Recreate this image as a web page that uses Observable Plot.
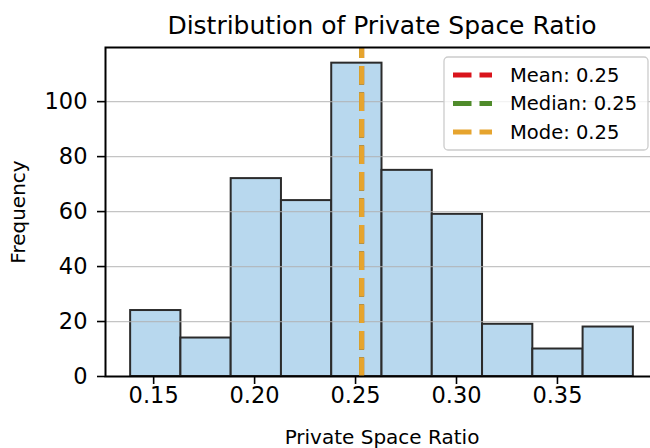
<!DOCTYPE html>
<html><head><meta charset="utf-8">
<script src="https://cdn.jsdelivr.net/npm/d3@7"></script>
<script src="https://cdn.jsdelivr.net/npm/@observablehq/plot@0.6"></script>
<style>html,body{margin:0;padding:0;background:#fff;overflow:hidden;width:650px;height:448px}</style>
</head><body><div id="chart"></div>
<script>
// ---- data ----
const binStart = [0.1386, 0.1635, 0.1884, 0.2133, 0.2382, 0.2631, 0.2880, 0.3129, 0.3378, 0.3627];
const binEnd   = [0.1635, 0.1884, 0.2133, 0.2382, 0.2631, 0.2880, 0.3129, 0.3378, 0.3627, 0.3876];
const counts   = [24, 14, 72, 64, 114, 75, 59, 19, 10, 18];
const statNames  = ["Mean", "Median", "Mode"];
const statValues = [0.253, 0.253, 0.253];
const statLabels = ["0.25", "0.25", "0.25"];
const statColors = ["#d9141c", "#4f8b2b", "#e6a42e"];
const xTicks = [0.15, 0.20, 0.25, 0.30, 0.35];
const yTicks = [0, 20, 40, 60, 80, 100];
const title  = "Distribution of Private Space Ratio";
const xLabel = "Private Space Ratio";
const yLabel = "Frequency";

// ---- derived tables ----
const bins = counts.map((c, i) => ({x0: binStart[i], x1: binEnd[i], count: c}));
const stats = statNames.map((n, i) => ({name: n, value: statValues[i], label: statLabels[i], color: statColors[i]}));
const span = binEnd[binEnd.length - 1] - binStart[0];
const xMin = binStart[0] - 0.05 * span;
const xMax = binEnd[binEnd.length - 1] + 0.05 * span;
const yMax = d3.max(counts) * 1.05;

const W = 650, H = 448;
const marks = [
  Plot.rectY(bins, {x1: "x0", x2: "x1", y: "count", fill: "#b8d8ee", stroke: "#2b2b2b", strokeWidth: 2, insetLeft: 0, insetRight: 0}),
  Plot.gridY(yTicks.slice(1), {stroke: "#b0b0b0", strokeOpacity: 0.75, strokeWidth: 1.3}),
];
stats.forEach(s => {
  marks.push(Plot.ruleX([s], {x: "value", y1: () => 0, y2: () => yMax, stroke: s.color, strokeWidth: 5, strokeDasharray: "18.5,8"}));
});
marks.push(
  Plot.axisY(yTicks, {tickSize: 8, tickPadding: 10, fontSize: 22.5, label: null, stroke: "#000", strokeWidth: 1.6, fill: "#000"}),
  Plot.axisX(xTicks, {tickSize: 8, tickPadding: 3, fontSize: 22.5, label: null, tickFormat: d3.format(".2f"), stroke: "#000", strokeWidth: 1.6, fill: "#000"}),
  Plot.frame({stroke: "#000", strokeWidth: 2}),
  Plot.text([title], {frameAnchor: "top", lineAnchor: "middle", textAnchor: "middle", dy: -22, fontSize: 25, fill: "#000"}),
  Plot.text([xLabel], {frameAnchor: "bottom", lineAnchor: "middle", textAnchor: "middle", dy: 61, fontSize: 20, fill: "#000"}),
  Plot.text([yLabel], {frameAnchor: "left", lineAnchor: "middle", textAnchor: "middle", rotate: -90, dx: -87, fontSize: 20, fill: "#000"})
);

const chart = Plot.plot({
  width: W, height: H,
  marginTop: 47, marginBottom: 72, marginLeft: 105, marginRight: -8,
  x: {domain: [xMin, xMax]},
  y: {domain: [0, yMax]},
  style: {fontFamily: "DejaVu Sans", fontSize: "22px", color: "#000", background: "white", overflow: "hidden"},
  marks
});
document.getElementById("chart").appendChild(chart);

// ---- legend (upper right) ----
const svg = d3.select(chart);
const lg = svg.append("g").attr("font-family", "DejaVu Sans").attr("text-anchor", "start");
lg.append("rect").attr("x", 444).attr("y", 57).attr("width", 204).attr("height", 93)
  .attr("rx", 4).attr("fill", "white").attr("fill-opacity", 0.8).attr("stroke", "#cccccc").attr("stroke-width", 1.3);
stats.forEach((s, i) => {
  const y = 75 + i * 28.5;
  lg.append("line").attr("x1", 453).attr("x2", 492).attr("y1", y).attr("y2", y)
    .attr("stroke", s.color).attr("stroke-width", 5).attr("stroke-dasharray", "18.5,8");
  lg.append("text").attr("x", 510).attr("y", y).attr("dy", "0.35em").attr("font-size", 19.5)
    .attr("text-anchor", "start").attr("fill", "#000").text(`${s.name}: ${s.label}`);
});
</script>
</body></html>
